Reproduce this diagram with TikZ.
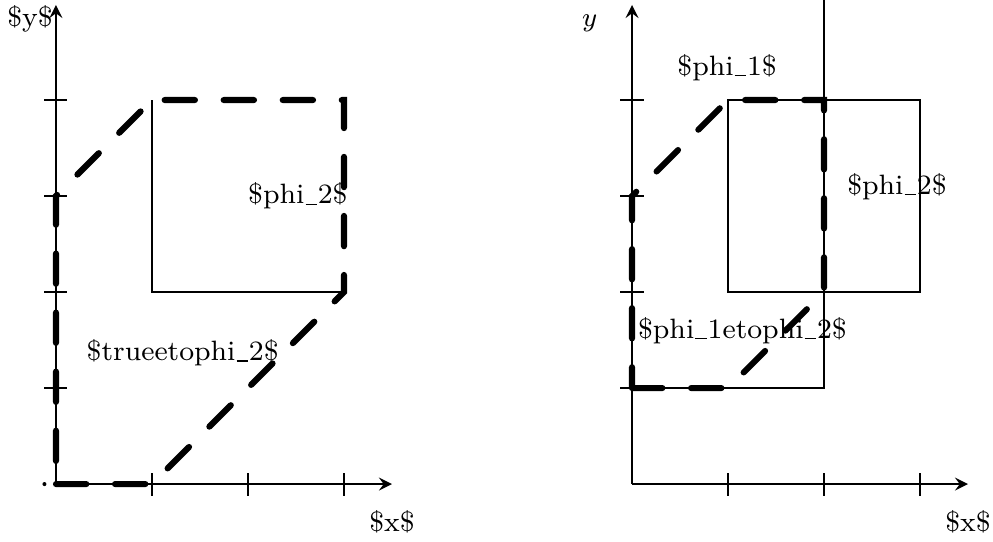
\documentclass[tikz,border=0pt]{standalone}
\newcommand{\us}{\kern0.04em\rule[-0.1ex]{0.4em}{0.45pt}\kern0.04em}
\begin{document}
\begin{tikzpicture}[>=stealth,
        axis/.style={->,line width=0.7pt},
        region/.style={line width=1.8pt,line cap=round,dash pattern=on 9pt off 8.5pt},
        box/.style={line width=0.6pt},
        lbl/.style={font=\fontsize{8.3}{10}\selectfont}]
            \useasboundingbox (-0.583,-0.594) rectangle (9.760,5.042);
            % left picture
            \draw[axis] (0,0) -- (3.5,0);
            \draw[axis] (0,0) -- (0,4.99);
            \foreach \t in {1,2,3} \draw[line width=0.6pt] (\t,-0.12) -- (\t,0.12);
            \foreach \t in {1,2,3,4} \draw[line width=0.6pt] (-0.12,\t) -- (0.12,\t);
            \fill (-0.12,0) circle (0.6pt);
            \draw[box] (1,4) -- (1,2) -- (3,2);
            \draw[region] (0,0) -- (1,0) -- (3,2) -- (3,4) -- (1,4) -- (0,3) -- cycle;
            \node[lbl] (ly) at (-0.27,4.85) {\$y\$};
            \node[lbl] (lx) at (3.5,-0.39) {\$x\$};
            \node[lbl] (lphi) at (2.52,3.0) {\$phi\us2\$};
            \node[lbl] (ltrue) at (1.32,1.37) {\$trueetophi\us2\$};
            % right picture
            \begin{scope}[xshift=6cm]
            \draw[axis] (0,0) -- (3.5,0);
            \draw[axis] (0,0) -- (0,4.99);
            \foreach \t in {1,2,3} \draw[line width=0.6pt] (\t,-0.12) -- (\t,0.12);
            \foreach \t in {1,2,3,4} \draw[line width=0.6pt] (-0.12,\t) -- (0.12,\t);
            \draw[box] (0,1) -- (2,1) -- (2,5.04);
            \draw[box] (1,2) rectangle (3,4);
            \draw[region] (0,1) -- (1,1) -- (2,2) -- (2,4) -- (1,4) -- (0,3) -- cycle;
            \node[lbl] (ry) at (-0.44,4.8) {$y$};
            \node[lbl] (rx) at (3.5,-0.39) {\$x\$};
            \node[lbl] (rphia) at (0.99,4.34) {\$phi\us1\$};
            \node[lbl] (rphib) at (2.76,3.1) {\$phi\us2\$};
            \node[lbl] (rboth) at (1.15,1.6) {\$phi\us1etophi\us2\$};
            \end{scope}
        \end{tikzpicture}
\end{document}
